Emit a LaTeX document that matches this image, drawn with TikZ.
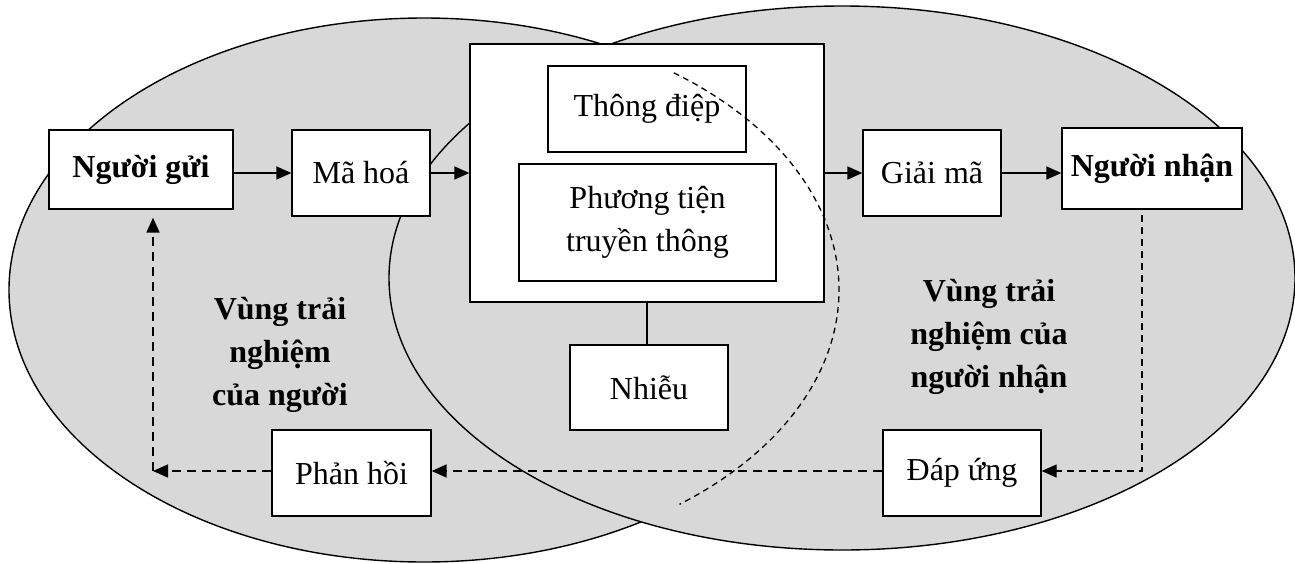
\documentclass[tikz,border=0pt]{standalone}
\usepackage{fontspec}
\setmainfont{Liberation Serif}
\usetikzlibrary{arrows.meta}
\begin{document}
\begin{tikzpicture}[x=1pt,y=1pt,
  box/.style={draw=black, fill=white, line width=1.3pt, inner sep=0pt, align=center,
    font=\fontsize{32}{43}\selectfont},
  solidarrow/.style={line width=1.5pt, -{Triangle[length=15pt,width=13pt]}},
  dasharrow/.style={line width=1.5pt, dash pattern=on 9pt off 6pt, -{Triangle[length=15pt,width=13pt]}},
  thindasharrow/.style={line width=1.2pt, dash pattern=on 7pt off 5pt, -{Triangle[length=15pt,width=13pt]}},
  zonetext/.style={align=center, font=\fontsize{32}{43}\selectfont\bfseries}
]
\definecolor{zonegray}{RGB}{216,216,216}
\useasboundingbox (0,0) rectangle (1295,-563);
% ellipses
\draw[fill=zonegray, line width=1.4pt] (424,-290) ellipse [x radius=415, y radius=272];
\draw[fill=zonegray, line width=1.4pt] (842,-278) ellipse [x radius=453, y radius=272];
% boxes
\node[box, minimum width=184pt, minimum height=79pt] (ng) at (141,-169.5) {\bfseries Người gửi};
\node[box, minimum width=138pt, minimum height=86pt] (mh) at (361,-173) {Mã hoá};
\node[box, minimum width=354pt, minimum height=258pt] (big) at (647,-173) {};
\node[box, minimum width=198pt, minimum height=86pt] (td) at (647,-109) {Thông điệp};
\node[box, minimum width=257pt, minimum height=117pt] (pt) at (647.5,-222.5) {Phương tiện\\truyền thông};
\node[box, minimum width=158pt, minimum height=85pt] (nh) at (649,-387.5) {Nhiễu};
\node[box, minimum width=159pt, minimum height=86pt] (ph) at (351.5,-473) {Phản hồi};
\node[box, minimum width=138pt, minimum height=86pt] (gm) at (932,-173) {Giải mã};
\node[box, minimum width=180pt, minimum height=81pt] (nn) at (1152,-168.5) {\bfseries Người nhận};
\node[box, minimum width=158pt, minimum height=86pt] (du) at (962,-473) {Đáp ứng};
% zone labels
\node[zonetext] (zl) at (280,-355) {Vùng trải\\nghiệm\\của người};
\node[zonetext] (zr) at (989,-337) {Vùng trải\\nghiệm của\\người nhận};
% hidden edge of left ellipse
\draw[line width=1.3pt, dash pattern=on 6pt off 4.5pt] ({424+415*cos(53)},{-290+272*sin(53)}) arc[start angle=53, end angle=-52, x radius=415, y radius=272];
% arrows
\draw[solidarrow] (ng.east |- 0,-173) -- (mh.west);
\draw[solidarrow] (mh.east) -- (big.west);
\draw[solidarrow] (big.east) -- (gm.west);
\draw[solidarrow] (gm.east) -- (gm.east -| nn.west);
\draw[line width=1.3pt] (big.south) -- (big.south |- nh.north);
\coordinate (fb) at (153,-471);
\coordinate (fr) at (1142,-215);
\draw[thindasharrow] (fr) |- ([yshift=2pt]du.east);
\draw[dasharrow] ([yshift=2pt]du.west) -- ([yshift=2pt]ph.east);
\draw[dasharrow] ([yshift=2pt]ph.west) -- (fb);
\draw[dasharrow] (fb) -- ([yshift=-8pt]ng.south -| fb);
\end{tikzpicture}
\end{document}
